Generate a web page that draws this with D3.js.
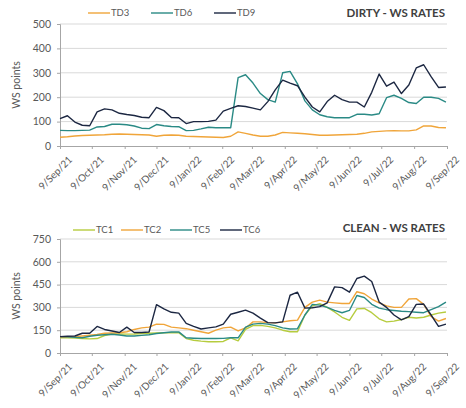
<!DOCTYPE html>
<html>
<head>
<meta charset="utf-8">
<script src="https://cdn.jsdelivr.net/npm/d3@7"></script>
<style>
  body { margin: 0; background: #fff; }
  text { font-family: Lato, "Open Sans", sans-serif; }
</style>
</head>
<body>
<div id="vis"></div>
<script>
const WIDTH = 466;
const HEIGHT = 408;

// semanas (jueves) desde 9/Sep/21
const fechas = ["2021-09-09","2021-09-16","2021-09-23","2021-09-30","2021-10-07","2021-10-14","2021-10-21","2021-10-28",
  "2021-11-04","2021-11-11","2021-11-18","2021-11-25","2021-12-02","2021-12-09","2021-12-16","2021-12-23","2021-12-30",
  "2022-01-06","2022-01-13","2022-01-20","2022-01-27","2022-02-03","2022-02-10","2022-02-17","2022-02-24","2022-03-03",
  "2022-03-10","2022-03-17","2022-03-24","2022-03-31","2022-04-07","2022-04-14","2022-04-21","2022-04-28","2022-05-05",
  "2022-05-12","2022-05-19","2022-05-26","2022-06-02","2022-06-09","2022-06-16","2022-06-23","2022-06-30","2022-07-07",
  "2022-07-14","2022-07-21","2022-07-28","2022-08-04","2022-08-11","2022-08-18","2022-08-25","2022-09-01","2022-09-08"];

const meses = ["2021-09-09","2021-10-09","2021-11-09","2021-12-09","2022-01-09","2022-02-09","2022-03-09",
  "2022-04-09","2022-05-09","2022-06-09","2022-07-09","2022-08-09","2022-09-09"];
const etiquetasMes = ["9/Sep/21","9/Oct/21","9/Nov/21","9/Dec/21","9/Jan/22","9/Feb/22","9/Mar/22",
  "9/Apr/22","9/May/22","9/Jun/22","9/Jul/22","9/Aug/22","9/Sep/22"];

// DIRTY
const TD3 = [36,38,41,43,44,45,46,48,49,48,47,46,45,40,44,45,44,40,39,38,37,36,35,40,58,52,45,40,40,45,56,54,52,50,47,44,44,45,46,47,48,52,58,60,62,63,62,62,66,82,82,76,75];
const TD6 = [64,63,63,64,65,78,80,89,89,87,82,73,71,88,83,80,79,63,64,70,77,75,75,75,280,292,258,215,190,180,300,306,255,185,148,128,120,116,116,116,130,130,127,132,198,208,195,178,174,200,200,195,180];
const TD9 = [112,124,98,85,83,140,152,148,134,129,125,118,116,158,145,117,116,92,100,100,101,106,143,154,165,162,155,148,182,230,270,258,247,200,160,140,182,208,190,180,180,160,220,295,245,262,215,250,320,333,284,240,242];

// CLEAN
const TC1 = [100,100,98,95,93,95,115,125,125,124,125,128,130,132,133,133,134,95,84,78,74,74,76,100,80,155,180,182,175,165,150,140,140,250,310,325,300,270,235,215,290,293,265,225,205,210,220,235,230,235,250,262,270];
const TC2 = [105,106,108,112,117,122,130,132,133,140,155,165,170,190,188,170,165,160,150,140,130,150,165,170,145,165,205,205,200,198,205,212,216,300,335,348,335,330,326,326,403,390,355,330,310,300,300,355,358,320,240,210,227];
const TC5 = [108,106,103,100,110,117,120,123,118,112,112,116,120,128,133,138,139,100,97,95,95,95,96,100,100,170,190,195,190,180,165,158,160,250,320,315,300,280,265,280,378,365,320,295,285,280,275,272,268,265,285,305,335];
const TC6 = [108,110,112,130,130,175,155,145,135,170,135,135,138,318,290,268,262,195,175,158,165,172,190,255,268,282,262,230,200,198,205,380,400,295,298,305,330,435,430,400,490,506,470,335,300,250,218,240,320,322,250,175,190];

const NARANJO = "#f0a53a";
const TEAL = "#2a8a85";
const NAVY = "#1c2742";
const VERDE = "#b6cc3e";

const SVG = d3.select("#vis").append("svg").attr("width", WIDTH).attr("height", HEIGHT);
const parse = d3.timeParse("%Y-%m-%d");
const dias = fechas.map(parse);
const ticksMes = meses.map(parse);

const escalaX = d3.scaleTime()
  .domain([ticksMes[0], ticksMes[ticksMes.length - 1]])
  .range([60, 447]);

function crearPanel(cfg) {
  const escalaY = d3.scaleLinear().domain([0, cfg.max]).range([cfg.bottom, cfg.top]);
  const G = SVG.append("g");

  // grilla
  G.selectAll(".grid")
    .data(cfg.ticks.slice(1))
    .join("line")
    .attr("x1", 60).attr("x2", 447)
    .attr("y1", d => escalaY(d)).attr("y2", d => escalaY(d))
    .attr("stroke", "#d9d9d9").attr("stroke-width", 1);

  // eje y
  const ejeY = G.append("g")
    .attr("transform", "translate(60,0)")
    .call(d3.axisLeft(escalaY).tickValues(cfg.ticks).tickSize(3).tickPadding(6));
  ejeY.select(".domain").attr("stroke", "#a6a6a6");
  ejeY.selectAll(".tick line").attr("stroke", "#a6a6a6");
  ejeY.selectAll("text").attr("fill", "#595959").style("font-size", "10.5px");

  // eje x
  const ejeX = G.append("g")
    .attr("transform", `translate(0,${cfg.bottom})`)
    .call(d3.axisBottom(escalaX).tickValues(ticksMes).tickSize(3).tickSizeOuter(0)
      .tickFormat((d, i) => etiquetasMes[i]));
  ejeX.select(".domain").attr("stroke", "#a6a6a6");
  ejeX.selectAll(".tick line").attr("stroke", "#a6a6a6");
  ejeX.selectAll("text")
    .attr("fill", "#595959")
    .style("font-size", "10px")
    .attr("text-anchor", "end")
    .attr("dy", "0.3em")
    .attr("transform", "translate(6,8) rotate(-45)");

  // titulo eje y
  G.append("text")
    .attr("transform", `translate(20,${(cfg.top + cfg.bottom) / 2}) rotate(-90)`)
    .attr("text-anchor", "middle")
    .attr("fill", "#595959")
    .style("font-size", "10.5px")
    .text("WS points");

  // titulo
  G.append("text")
    .attr("x", 445).attr("y", cfg.top - 7)
    .attr("text-anchor", "end")
    .attr("fill", "#404040")
    .style("font-size", "11.5px")
    .style("font-weight", "bold")
    .text(cfg.titulo);

  const linea = d3.line()
    .x((d, i) => escalaX(dias[i]))
    .y(d => escalaY(d));

  G.selectAll(".serie")
    .data(cfg.series)
    .join("path")
    .attr("fill", "none")
    .attr("stroke", d => d.color)
    .attr("stroke-width", 1.4)
    .attr("stroke-linejoin", "round")
    .attr("d", d => linea(d.valores));

  // leyenda
  const L = G.selectAll(".leyenda")
    .data(cfg.series)
    .join("g")
    .attr("transform", (d, i) => `translate(${cfg.leyendaX[i]},${cfg.leyendaY})`);
  L.append("line")
    .attr("x1", 0).attr("x2", 22)
    .attr("stroke", d => d.color).attr("stroke-width", 1.4);
  L.append("text")
    .attr("x", 23).attr("dy", "0.35em")
    .attr("fill", "#595959")
    .style("font-size", "9.5px")
    .text(d => d.nombre);
}

crearPanel({
  titulo: "DIRTY - WS RATES",
  max: 500, ticks: [0, 100, 200, 300, 400, 500],
  top: 24, bottom: 146,
  leyendaX: [88, 151, 214], leyendaY: 13,
  series: [
    {nombre: "TD3", valores: TD3, color: NARANJO},
    {nombre: "TD6", valores: TD6, color: TEAL},
    {nombre: "TD9", valores: TD9, color: NAVY}
  ]
});

crearPanel({
  titulo: "CLEAN - WS RATES",
  max: 750, ticks: [0, 150, 300, 450, 600, 750],
  top: 239, bottom: 353,
  leyendaX: [73, 121, 170, 220], leyendaY: 230,
  series: [
    {nombre: "TC1", valores: TC1, color: VERDE},
    {nombre: "TC2", valores: TC2, color: NARANJO},
    {nombre: "TC5", valores: TC5, color: TEAL},
    {nombre: "TC6", valores: TC6, color: NAVY}
  ]
});
</script>
</body>
</html>
